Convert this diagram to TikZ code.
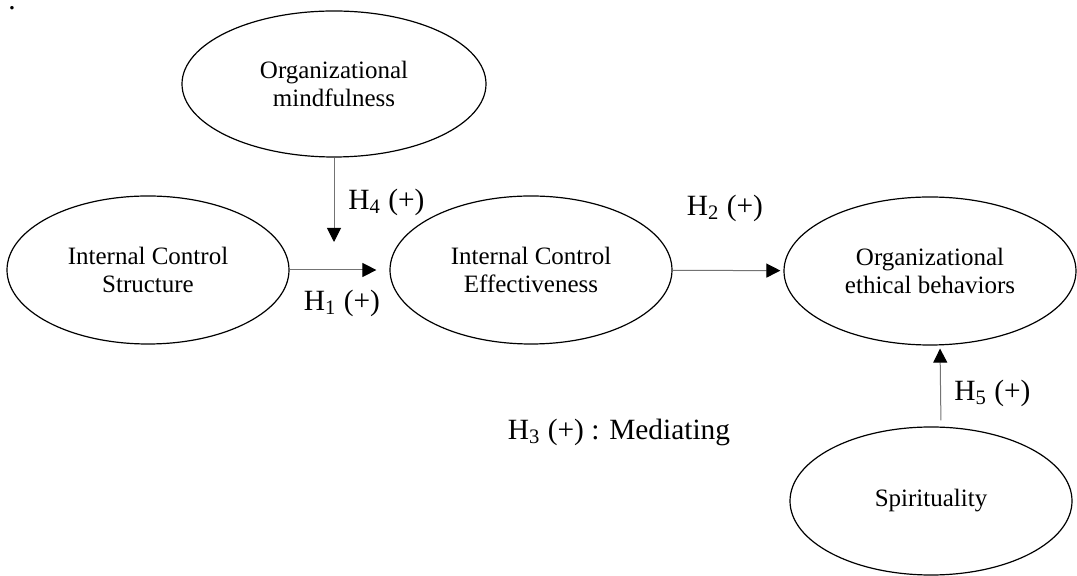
\documentclass[tikz,border=0pt]{standalone}
\usepackage{fontspec}
\setmainfont{Liberation Serif}
\usetikzlibrary{shapes.geometric, arrows.meta}

\begin{document}
\begin{tikzpicture}[x=0.5pt, y=-0.5pt,
    construct/.style={draw, ellipse, line width=0.6pt, inner sep=0pt,
      align=center, font=\fontsize{12.5}{14}\selectfont},
    link/.style={draw=black!55, line width=0.5pt,
      -{Triangle[length=7pt, width=7pt, color=black]}},
    hyp/.style={font=\fontsize{14.7}{17}\selectfont, inner sep=0pt}]
  \useasboundingbox (0,0) rectangle (1077,576);

  \node[anchor=base, inner sep=0pt, font=\fontsize{14.7}{17}\selectfont] (dot) at (12,10) {.};

  \node[construct, minimum width=152pt, minimum height=73pt] (mind) at (334,84)
    {Organizational\\mindfulness};
  \node[construct, minimum width=141pt, minimum height=74pt] (ics) at (148,270)
    {Internal Control\\Structure};
  \node[construct, minimum width=141pt, minimum height=74pt] (ice) at (531,270)
    {Internal Control\\Effectiveness};
  \node[construct, minimum width=146pt, minimum height=74pt] (oeb) at (930,271)
    {Organizational\\ethical behaviors};
  \node[construct, minimum width=141pt, minimum height=74pt] (spir) at (931,501)
    {Spirituality};

  \coordinate (h4end) at (334,242);

  \draw[link, shorten >=6.5pt] (ics) -- (ice);
  \draw[link, shorten >=1.5pt] (ice) -- (oeb);
  \draw[link] (mind) -- (h4end);
  \draw[link, shorten <=3pt, shorten >=1.5pt]
    ([xshift=5pt]spir.north) -- ([xshift=5pt]oeb.south);

  \node[hyp, anchor=west] (h4) at (348,202) {H\textsubscript{4} (+)};
  \node[hyp] (h1) at (342,303) {H\textsubscript{1} (+)};
  \node[hyp] (h2) at (725,208) {H\textsubscript{2} (+)};
  \node[hyp, anchor=west] (h5) at (954,393) {H\textsubscript{5} (+)};
  \node[hyp] (h3) at (619,432) {H\textsubscript{3} (+) : Mediating};
\end{tikzpicture}
\end{document}
